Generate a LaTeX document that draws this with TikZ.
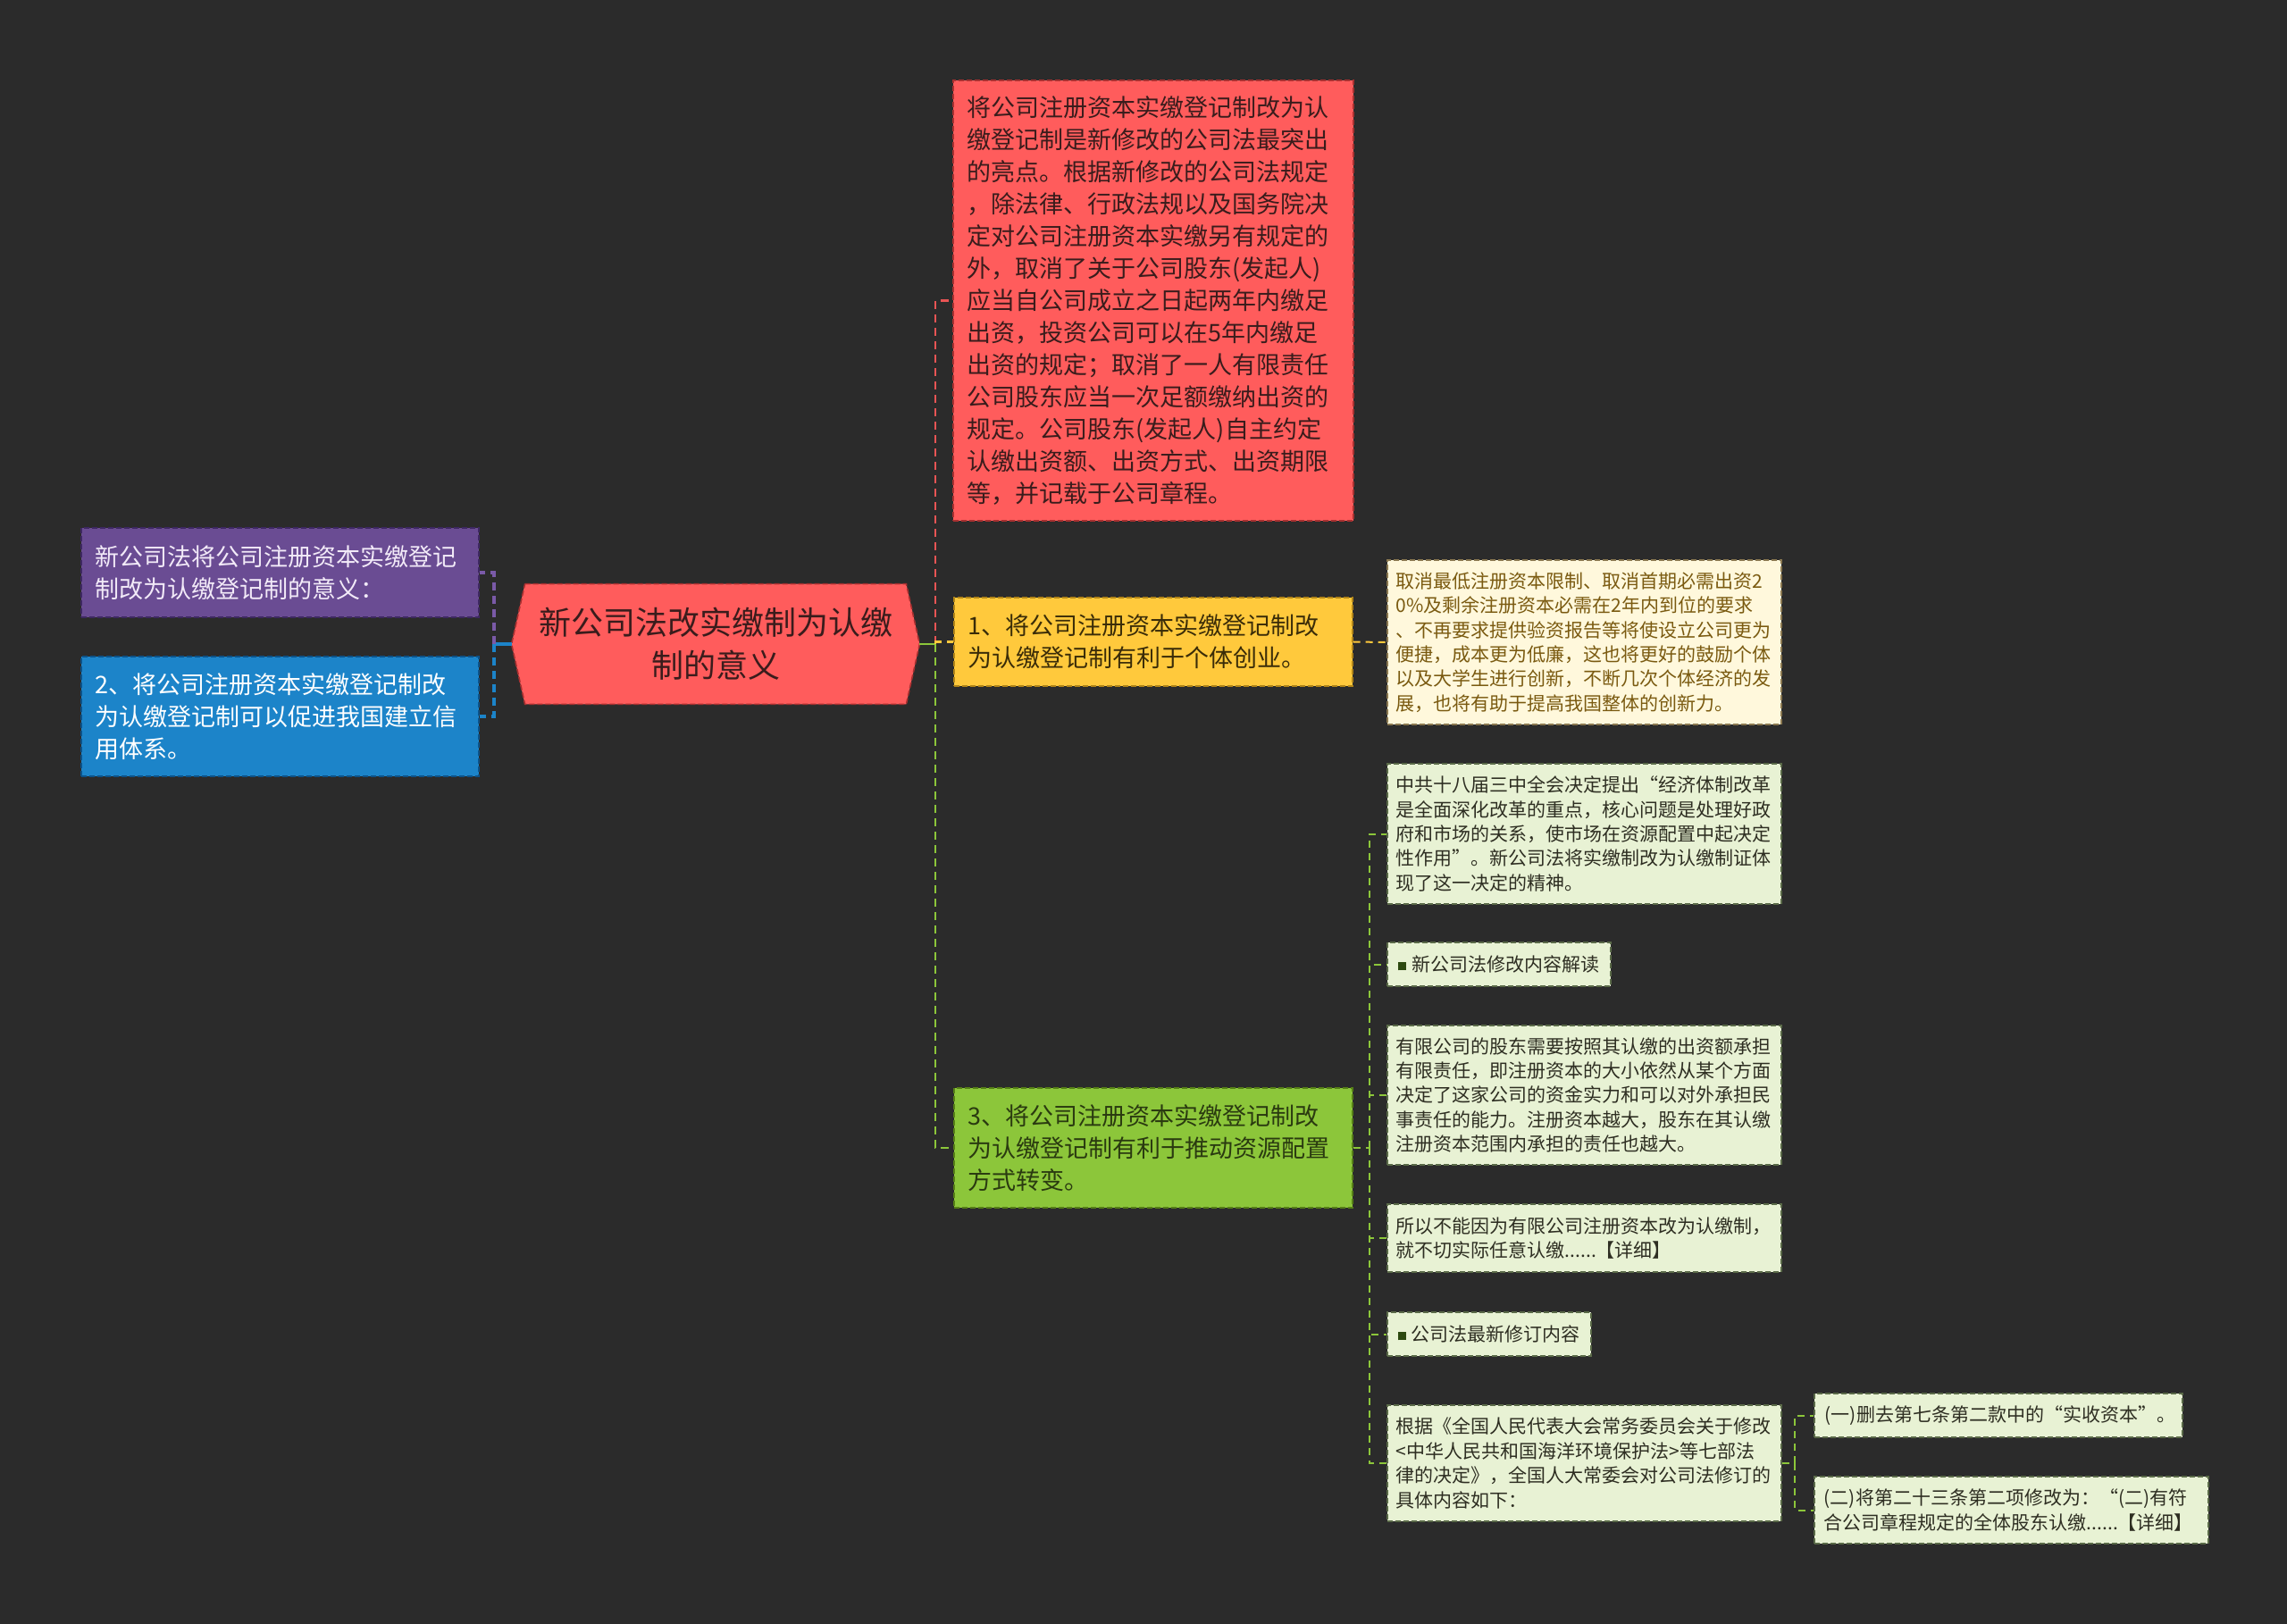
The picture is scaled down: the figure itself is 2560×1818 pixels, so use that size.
\documentclass[tikz,border=0pt]{standalone}
\usepackage{fontspec}
\setmainfont{Noto Sans CJK SC}
\definecolor{bgcol}{HTML}{2B2B2B}
\definecolor{cred}{HTML}{FF5C5C}
\definecolor{credD}{HTML}{A83030}
\definecolor{credT}{HTML}{3A1C1C}
\definecolor{credL}{HTML}{E85454}
\definecolor{cpur}{HTML}{6A4C93}
\definecolor{cpurD}{HTML}{3E2862}
\definecolor{cpurT}{HTML}{F2EAF8}
\definecolor{cpurL}{HTML}{7A5AA8}
\definecolor{cblu}{HTML}{1C84C9}
\definecolor{cbluD}{HTML}{0C5288}
\definecolor{cyel}{HTML}{FFC93C}
\definecolor{cyelD}{HTML}{B08418}
\definecolor{cyelT}{HTML}{3A2C08}
\definecolor{cgrn}{HTML}{8CC63A}
\definecolor{cgrnD}{HTML}{557F16}
\definecolor{cgrnT}{HTML}{2A3A10}
\definecolor{ccrm}{HTML}{FFF8DC}
\definecolor{ccrmD}{HTML}{8A7850}
\definecolor{ccrmT}{HTML}{7A5A10}
\definecolor{clgr}{HTML}{E8F2D4}
\definecolor{clgrD}{HTML}{5A6A48}
\definecolor{clgrT}{HTML}{2E2E22}
\definecolor{csq}{HTML}{2D4A10}
\pgfdeclarelayer{canvas}\pgfdeclarelayer{bg}\pgfsetlayers{canvas,bg,main}
\newcommand{\bsq}{\textcolor{csq}{\rule[0.6pt]{4.6pt}{4.6pt}}\hspace{3pt}}
\begin{document}
\begin{tikzpicture}[x=0.5pt,y=-0.5pt,
  bordpat/.style={line width=0.8pt, dash pattern=on 3pt off 1.5pt},
  box/.style={anchor=west, inner ysep=0pt, align=left, bordpat},
  mainf/.style={font=\fontsize{13.5}{18}\selectfont},
  smallf/.style={font=\fontsize{10.5}{13.7}\selectfont},
  mainbox/.style={box, mainf, inner xsep=8pt},
  redbox/.style={mainbox, fill=cred, draw=credD, text=credT},
  purbox/.style={mainbox, fill=cpur, draw=cpurD, text=cpurT},
  blubox/.style={mainbox, fill=cblu, draw=cbluD, text=white},
  yelbox/.style={mainbox, fill=cyel, draw=cyelD, text=cyelT},
  grnbox/.style={mainbox, fill=cgrn, draw=cgrnD, text=cgrnT},
  crmbox/.style={box, smallf, inner xsep=5pt, fill=ccrm, draw=ccrmD, text=ccrmT},
  lgrbox/.style={box, smallf, inner xsep=5pt, fill=clgr, draw=clgrD, text=clgrT},
  connA/.style={line width=1.6pt, dash pattern=on 4.5pt off 3pt},
  connB/.style={line width=1.2pt, dash pattern=on 4.5pt off 3pt},
  connC/.style={line width=1pt, dash pattern=on 4pt off 3pt},
]
\begin{pgfonlayer}{canvas}
\fill[bgcol] (0,0) rectangle (2560,1818);
\end{pgfonlayer}
\useasboundingbox (0,0) rectangle (2560,1818);

% root
\node[font=\fontsize{18}{24}\selectfont, text=credT, align=center, minimum width=213pt, minimum height=67pt, inner sep=0pt] (root) at (801,721) {新公司法改实缴制为认缴\\制的意义};
\begin{pgfonlayer}{bg}
\filldraw[fill=cred, draw=credD, bordpat] (root.north west) -- (root.north east) -- ([xshift=7.5pt]root.east) -- (root.south east) -- (root.south west) -- ([xshift=-7.5pt]root.west) -- cycle;
\end{pgfonlayer}
\coordinate (rootL) at ([xshift=-7.5pt]root.west);
\coordinate (rootR) at ([xshift=7.5pt]root.east);

% left side
\node[purbox, text width=206.5pt, minimum height=50pt] (P) at (90,641) {新公司法将公司注册资本实缴登记\\制改为认缴登记制的意义：};
\node[blubox, text width=206.5pt, minimum height=67pt] (B) at (90,802) {2、将公司注册资本实缴登记制改\\为认缴登记制可以促进我国建立信\\用体系。};

% right main
\node[redbox, text width=208pt, minimum height=246.5pt] (R) at (1066,336.5) {将公司注册资本实缴登记制改为认\\缴登记制是新修改的公司法最突出\\的亮点。根据新修改的公司法规定\\，除法律、行政法规以及国务院决\\定对公司注册资本实缴另有规定的\\外，取消了关于公司股东(发起人)\\应当自公司成立之日起两年内缴足\\出资，投资公司可以在5年内缴足\\出资的规定；取消了一人有限责任\\公司股东应当一次足额缴纳出资的\\规定。公司股东(发起人)自主约定\\认缴出资额、出资方式、出资期限\\等，并记载于公司章程。};
\node[yelbox, text width=207pt, minimum height=49.5pt] (Y) at (1067,718.5) {1、将公司注册资本实缴登记制改\\为认缴登记制有利于个体创业。};
\node[grnbox, text width=207pt, minimum height=67pt] (G) at (1067,1285) {3、将公司注册资本实缴登记制改\\为认缴登记制有利于推动资源配置\\方式转变。};

% yellow child
\node[crmbox, text width=210.5pt, minimum height=92pt] (C) at (1552,719) {取消最低注册资本限制、取消首期必需出资2\\0\%及剩余注册资本必需在2年内到位的要求\\、不再要求提供验资报告等将使设立公司更为\\便捷，成本更为低廉，这也将更好的鼓励个体\\以及大学生进行创新，不断几次个体经济的发\\展，也将有助于提高我国整体的创新力。};

% green children
\node[lgrbox, text width=210.5pt, minimum height=78.5pt] (c1) at (1552,933.5) {中共十八届三中全会决定提出“经济体制改革\\是全面深化改革的重点，核心问题是处理好政\\府和市场的关系，使市场在资源配置中起决定\\性作用”。新公司法将实缴制改为认缴制证体\\现了这一决定的精神。};
\node[lgrbox, minimum width=125pt, minimum height=24.5pt] (c2) at (1552,1079.5) {\bsq 新公司法修改内容解读};
\node[lgrbox, text width=210.5pt, minimum height=78pt] (c3) at (1552,1226) {有限公司的股东需要按照其认缴的出资额承担\\有限责任，即注册资本的大小依然从某个方面\\决定了这家公司的资金实力和可以对外承担民\\事责任的能力。注册资本越大，股东在其认缴\\注册资本范围内承担的责任也越大。};
\node[lgrbox, text width=210.5pt, minimum height=38pt] (c4) at (1552,1386) {所以不能因为有限公司注册资本改为认缴制，\\就不切实际任意认缴......【详细】};
\node[lgrbox, minimum width=114pt, minimum height=24.5pt] (c5) at (1552,1493.5) {\bsq 公司法最新修订内容};
\node[lgrbox, text width=210.5pt, minimum height=65pt] (c6) at (1552,1638) {根据《全国人民代表大会常务委员会关于修改\\<中华人民共和国海洋环境保护法>等七部法\\律的决定》，全国人大常委会对公司法修订的\\具体内容如下：};

% c6 children
\node[lgrbox, text width=194pt, inner xsep=6pt, minimum height=24.5pt] (g1) at (2030,1584.5) {(一)删去第七条第二款中的“实收资本”。};
\node[lgrbox, text width=209.5pt, inner xsep=5.5pt, minimum height=37.5pt] (g2) at (2030,1690.5) {(二)将第二十三条第二项修改为：“(二)有符\\合公司章程规定的全体股东认缴......【详细】};

% connectors left
\coordinate (jl) at (553,721);
\draw[cblu, line width=1.6pt] (rootL) -- (jl);
\draw[cpurL, connA] (jl) |- (P.east);
\draw[cblu, connA] (jl) |- (B.east);

% connectors right
\coordinate (jr) at (1047,721);
\draw[cgrn, line width=1.2pt] (rootR) -- (jr);
\draw[credL, connB] (jr) |- (R.west);
\draw[cyel, connB] (jr) |- (Y.west);
\draw[cgrn, connB] (jr) |- (G.west);

\draw[cyel, connC] (Y.east) -- (C.west);

\coordinate (jg) at (1533,1285);
\draw[cgrn, connC] (G.east) -- (jg);
\foreach \n in {c1,c2,c3,c4,c5,c6} \draw[cgrn, connC] (jg) |- (\n.west);

\coordinate (j6) at (2009,1638);
\draw[cgrn, connC] (c6.east) -- (j6);
\draw[cgrn, connC] (j6) |- (g1.west);
\draw[cgrn, connC] (j6) |- (g2.west);
\end{tikzpicture}
\end{document}
